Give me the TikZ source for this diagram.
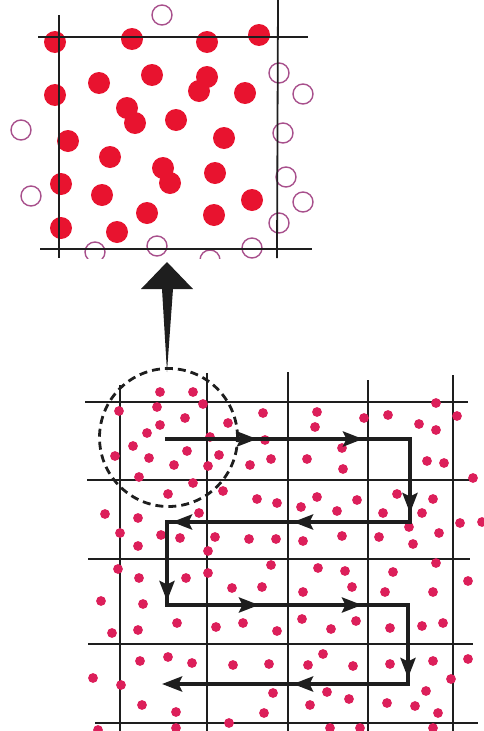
\documentclass[tikz,border=0pt]{standalone}
\usetikzlibrary{arrows.meta,decorations.markings}
\definecolor{topred}{HTML}{E8132F}
\definecolor{openpink}{HTML}{A8508C}
\definecolor{dotred}{HTML}{DC1F5A}
\definecolor{ink}{HTML}{1E1E1E}
\begin{document}
\begin{tikzpicture}[x=1pt,y=-1pt,
  bigdot/.style={fill=topred},
  opendot/.style={draw=openpink,line width=1.4pt},
  smalldot/.style={fill=dotred},
  gridline/.style={draw=ink,line width=1.1pt},
  topline/.style={draw=ink,line width=1.8pt},
  tour/.style={draw=ink,line width=3.8pt,line join=miter},
  tip/.tip={Stealth[length=20pt,width=15pt,inset=3.5pt]},
  mtip/.style={decoration={markings,
     mark=at position 92pt with {\arrow{tip}},
     mark=at position 198pt with {\arrow{tip}},
     mark=at position 319pt with {\arrow{tip}},
     mark=at position 445pt with {\arrow{tip}},
     mark=at position 566pt with {\arrow{tip}},
     mark=at position 650pt with {\arrow{tip}},
     mark=at position 746pt with {\arrow{tip}},
     mark=at position 849pt with {\arrow{tip}},
     mark=at position 968pt with {\arrow{tip}},
     mark=at position 1089pt with {\arrow{tip}}},
     postaction={decorate}}
]
\useasboundingbox (0,0) rectangle (483,731);
% ---------------- top panel ----------------
\begin{scope}
\clip (0,0) rectangle (483,258);
\foreach \x/\y in {55/42,132/39,207/42,259/35,99/83,152/75,207/77,199/91,245/93,55/95,
  127/108,135/123,176/120,68/141,224/138,110/157,163/168,170/183,215/173,61/184,
  102/195,147/213,214/215,252/200,61/228,117/232}
  \fill[bigdot] (\x,\y) circle[radius=11pt];
\foreach \x/\y in {162/15,279/73,303/94,21/130,283/133,286/177,31/196,303/202,279/223,
  157/246,95/252,210/260,252/248}
  \draw[opendot] (\x,\y) circle[radius=10pt];
\coordinate (tl1) at (38,37);  \coordinate (tl2) at (308,37);
\coordinate (bl1) at (40,249); \coordinate (bl2) at (312,249);
\coordinate (lv1) at (59,15);  \coordinate (lv2) at (59,258);
\coordinate (rv1) at (278,0);  \coordinate (rv2) at (277,258);
\draw[topline] (tl1) -- (tl2);
\draw[topline] (bl1) -- (bl2);
\draw[topline] (lv1) -- (lv2);
\draw[topline] (rv1) -- (rv2);
\end{scope}
% ---------------- big arrow ----------------
\coordinate (atip) at (167,262);
\coordinate (afoot) at (167,372);
\fill[ink] (atip) -- (193,289) -- (173,289) -- (afoot) -- (162,289) -- (141,289) -- cycle;
% ---------------- bottom panel grid ----------------
\foreach \x/\t in {120/385,207/373,288/372,368/380,453/375}
  \draw[gridline] (\x,\t) -- (\x,731);
\foreach \y/\a/\b in {402/85/468,480/87/471,559/88/470,644/88/473,723/95/478}
  \draw[gridline] (\a,\y) -- (\b,\y);
% ---------------- bottom dots ----------------
\foreach \x/\y in {160/392,193/392,119/411,157/407,203/404,185/418,160/425,147/433,228/423,
  263/413,317/412,315/427,364/418,388/415,436/403,457/416,419/424,436/430,133/446,115/456,
  149/458,187/451,210/437,219/455,174/465,208/466,250/465,271/459,307/459,343/469,427/461,
  444/463,139/477,193/483,473/478,223/491,168/494,257/499,277/503,301/507,317/497,337/511,
  357/500,397/494,383/513,422/513,433/499,105/514,138/518,199/513,460/523,482/522,120/533,
  161/535,180/538,215/537,249/539,276/539,303/541,342/536,379/537,409/527,439/533,413/544,
  138/546,208/551,265/440,342/448,
  118/569,139/578,186/578,208/573,232/588,262/587,271/565,318/568,345/571,303/592,352/587,
  393/572,385/592,436/563,433/592,468/581,101/601,143/604,112/633,138/630,177/623,216/627,
  243/623,277/631,302/619,331/629,356/621,390/628,422/626,443/623,140/661,168/657,192/663,
  233/665,269/664,308/665,323/654,353/666,390/664,433/661,468/659,93/678,121/685,451/679,
  273/693,327/692,349/699,426/691,142/705,176/712,264/713,310/705,387/703,415/706,438/713,
  229/723,330/728,360/728,433/728,176/728,98/730}
  \fill[smalldot] (\x,\y) circle[radius=4.9pt];
% ---------------- dashed circle ----------------
\coordinate (cc) at (168.5,437.5);
\draw[ink,line width=2.8pt,dash pattern=on 8pt off 5pt] (cc) circle[radius=69pt];
% ---------------- tour path ----------------
\coordinate (p1) at (165,439);
\coordinate (p2) at (410,439);
\coordinate (p3) at (410,522);
\coordinate (p4) at (167,522);
\coordinate (p5) at (167,605);
\coordinate (p6) at (408,605);
\coordinate (p7) at (408,684);
\coordinate (p8) at (162,684);
\draw[tour,mtip,-tip]
  (p1) -- (p2) -- (p3) -- (p4) -- (p5) -- (p6) -- (p7) -- (p8);
\end{tikzpicture}
\end{document}
